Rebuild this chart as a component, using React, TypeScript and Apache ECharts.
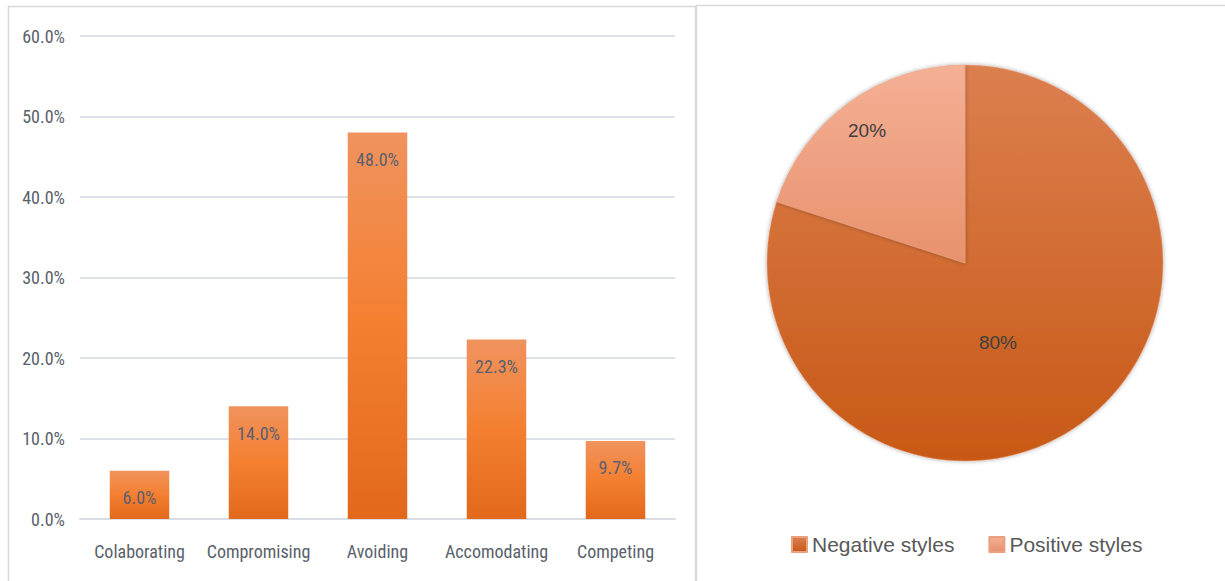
import React, { useEffect, useRef } from "react";
import * as echarts from "echarts";

const categories = ["Colaborating", "Compromising", "Avoiding", "Accomodating", "Competing"];
const barValues = [6.0, 14.0, 48.0, 22.3, 9.7];
const yTicks = { min: 0, max: 60, interval: 10 };
const pieNames = ["Negative styles", "Positive styles"];
const pieValues = [80, 20];

const FONT = "'Liberation Sans Narrow', 'Roboto Condensed', 'Liberation Sans', sans-serif";

export default function App() {
  const ref = useRef<HTMLDivElement>(null);
  useEffect(() => {
    if (!ref.current) return;
    const chart = echarts.init(ref.current, null, { renderer: "svg" });
    const barGrad = new echarts.graphic.LinearGradient(0, 0, 0, 1, [
      { offset: 0, color: "#f0935e" },
      { offset: 0.5, color: "#f47f30" },
      { offset: 1, color: "#e2691c" },
    ]);
    const negGrad = new echarts.graphic.LinearGradient(0, 0, 0, 1, [
      { offset: 0, color: "#db7f4f" },
      { offset: 1, color: "#c85916" },
    ]);
    const posGrad = new echarts.graphic.LinearGradient(0, 0, 0, 1, [
      { offset: 0, color: "#f4b095" },
      { offset: 1, color: "#e8916d" },
    ]);
    const pieColors = [negGrad, posGrad];
    const legendColors = ["#d2692f", "#f0a283"];
    const labelOffsets = [[-27, -3], [-38, -50]];
    chart.setOption({
      animation: false,
      graphic: [
        {
          type: "rect",
          shape: { x: 8.5, y: 6.5, width: 687, height: 580 },
          style: { fill: "none", stroke: "#d9d9d9", lineWidth: 1.5 },
          silent: true,
        },
        {
          type: "rect",
          shape: { x: 696.5, y: 5.5, width: 540, height: 580 },
          style: { fill: "none", stroke: "#d9d9d9", lineWidth: 1.5 },
          silent: true,
        },
      ],
      grid: { left: 80, right: 550, top: 36, bottom: 62, containLabel: false },
      xAxis: {
        type: "category",
        data: categories,
        axisLine: { show: true, lineStyle: { color: "#d9dde4", width: 2 } },
        axisTick: { show: false },
        axisLabel: { color: "#595f6b", fontSize: 18, fontFamily: FONT, margin: 23, interval: 0 },
      },
      yAxis: {
        type: "value",
        min: yTicks.min,
        max: yTicks.max,
        interval: yTicks.interval,
        axisLine: { show: false },
        axisTick: { show: false },
        splitLine: { lineStyle: { color: "#dde1e7", width: 2 } },
        axisLabel: {
          color: "#595f6b",
          fontSize: 18,
          fontFamily: FONT,
          margin: 15,
          formatter: (v: number) => v.toFixed(1) + "%",
        },
      },
      legend: {
        data: pieNames,
        left: 786,
        top: 529,
        icon: "rect",
        itemWidth: 15,
        itemHeight: 15,
        itemGap: 34,
        itemTextGap: 5,
        textStyle: { color: "#595959", fontSize: 21, fontFamily: "'Liberation Sans', sans-serif" },
      },
      series: [
        {
          type: "bar",
          data: barValues,
          barWidth: "50%",
          itemStyle: { color: barGrad },
          label: {
            show: true,
            position: "insideTop",
            distance: 18,
            color: "#5a606e",
            fontSize: 18,
            fontFamily: FONT,
            formatter: (p: any) => Number(p.value).toFixed(1) + "%",
          },
        },
        {
          type: "pie",
          center: [965, 263],
          radius: 198,
          startAngle: 90,
          clockwise: true,
          data: pieNames.map((n, i) => ({
            name: n,
            value: pieValues[i],
            itemStyle: {
              color: pieColors[i],
              borderColor: "#e9a07f",
              borderWidth: 0.5,
              shadowBlur: 4,
              shadowColor: "rgba(0,0,0,0.35)",
            },
            label: { offset: labelOffsets[i] },
          })),
          label: {
            show: true,
            position: "inside",
            color: "#404040",
            fontSize: 19,
            fontFamily: "'Liberation Sans', sans-serif",
            formatter: (p: any) => p.value + "%",
          },
          labelLine: { show: false },
          emphasis: { disabled: true },
        },
      ],
      color: legendColors,
    });
    return () => chart.dispose();
  }, []);
  return (
    <div
      ref={ref}
      style={{ position: "absolute", left: 0, top: 0, width: 1225, height: 581, background: "#fff" }}
    />
  );
}
